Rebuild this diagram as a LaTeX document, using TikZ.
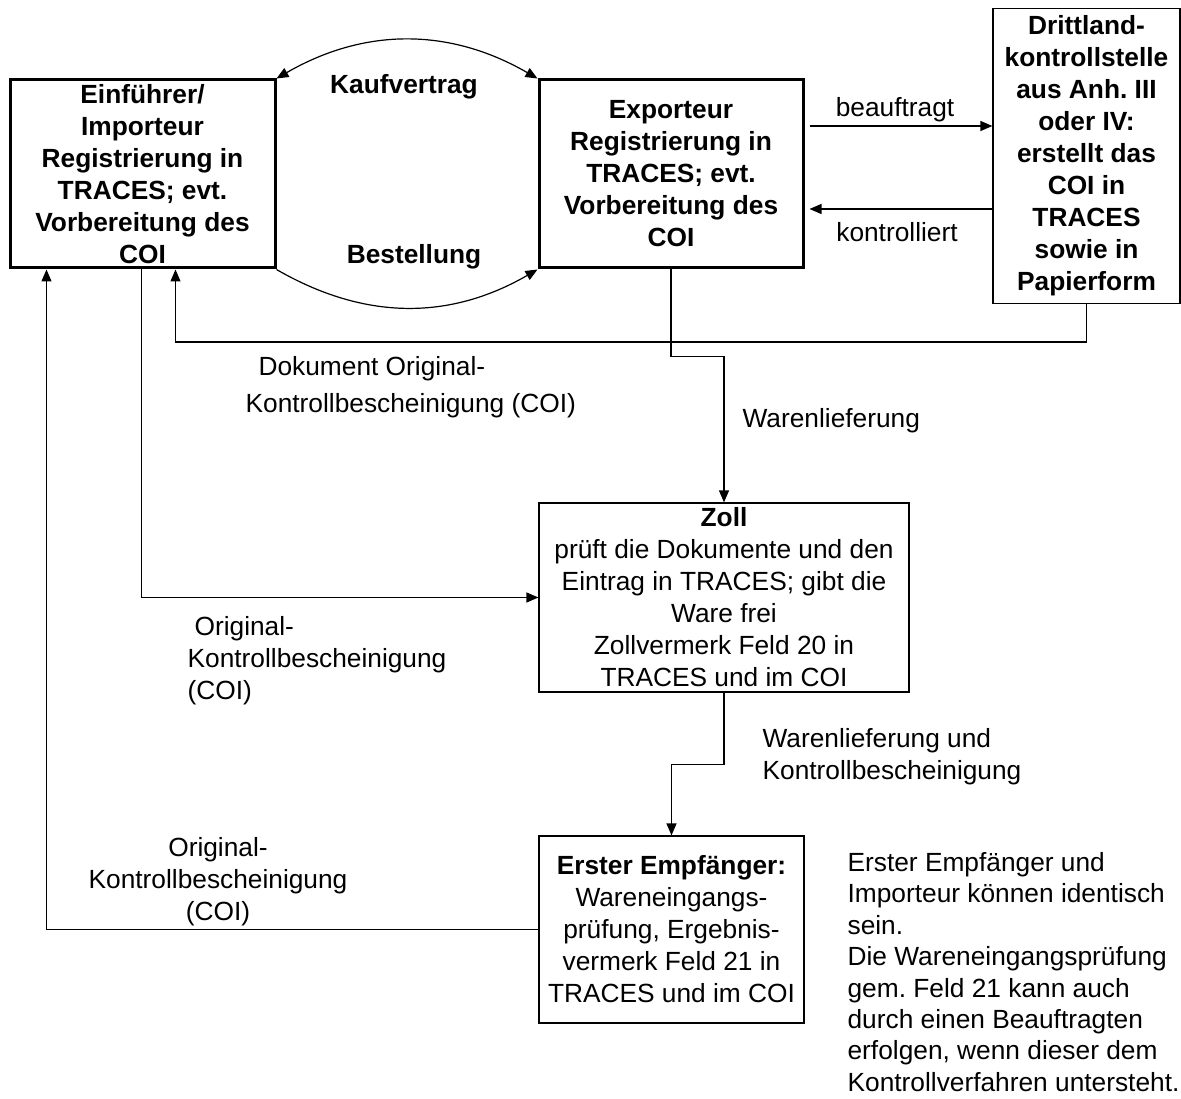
\documentclass[tikz,border=0pt]{standalone}
\usepackage{fontspec}
\setmainfont{Liberation Sans}
\usetikzlibrary{arrows.meta}
\newcommand{\fsz}{\fontsize{26.3}{32}\selectfont}
\frenchspacing

\begin{document}
\begin{tikzpicture}[x=1pt, y=-1pt, font=\fsz, line width=1.2pt,
    >={Triangle[length=12pt,width=10pt]},
    heavy/.style={draw, line width=3pt, align=center, inner sep=0pt, font=\fsz\bfseries},
    light/.style={draw, line width=1.2pt, align=center, inner sep=0pt},
    lbl/.style={align=left, anchor=west, inner sep=0pt}]
    \useasboundingbox (0,0) rectangle (1181,1099);

    % boxes
    \node[heavy, minimum width=265pt, minimum height=188pt] (imp) at (142.5,174)
        {Einführer/\\Importeur\\Registrierung in\\TRACES; evt.\\Vorbereitung des\\COI};
    \node[heavy, minimum width=264pt, minimum height=188pt] (exp) at (671,174)
        {Exporteur\\Registrierung in\\TRACES; evt.\\Vorbereitung des\\COI};
    \node[light, font=\fsz\bfseries, minimum width=187pt, minimum height=295pt] (dritt) at (1086.5,156)
        {Drittland-\\kontrollstelle\\aus Anh. III\\oder IV:\\erstellt das\\COI in\\TRACES\\sowie in\\Papierform};
    \node[light, minimum width=370pt, minimum height=189pt] (zoll) at (724,597.5)
        {\textbf{Zoll}\\prüft die Dokumente und den\\Eintrag in TRACES; gibt die\\Ware frei\\Zollvermerk Feld 20 in\\TRACES und im COI};
    \node[light, minimum width=265pt, minimum height=187pt] (erster) at (671.5,929.5)
        {\textbf{Erster Empfänger:}\\Wareneingangs-\\prüfung, Ergebnis-\\vermerk Feld 21 in\\TRACES und im COI};

    % labels
    \node[font=\fsz\bfseries] (kauf) at (404,87) {Kaufvertrag};
    \node[font=\fsz\bfseries] (best) at (414,257) {Bestellung};
    \node (beauf) at (895,110) {beauftragt};
    \node (kontr) at (897,232) {kontrolliert};
    \node[lbl] (dok) at (245,387) {\hspace*{13pt}Dokument Original-\\[5pt]Kontrollbescheinigung (COI)};
    \node[lbl] (wl) at (742,421) {Warenlieferung};
    \node[lbl] (origA) at (187,661) {\hspace*{7pt}Original-\\Kontrollbescheinigung\\(COI)};
    \node[lbl] (wlk) at (762,757) {Warenlieferung und\\Kontrollbescheinigung};
    \node[align=center, inner sep=0pt] (origB) at (218,882) {Original-\\Kontrollbescheinigung\\(COI)};
    \node[lbl, font=\fontsize{26.3}{31.4}\selectfont] (hint) at (847,972)
        {Erster Empfänger und\\Importeur können identisch\\sein.\\Die Wareneingangsprüfung\\gem. Feld 21 kann auch\\durch einen Beauftragten\\erfolgen, wenn dieser dem\\Kontrollverfahren untersteht.};

    % connectors
    \draw[<->] (imp.north east) to[bend left=30] (exp.north west);
    \draw[->] (imp.south east) to[bend right=30] (exp.south west);

    \coordinate (bA) at ([xshift=5pt,yshift=48pt]exp.east);
    \coordinate (kA) at ([xshift=5pt,yshift=-35pt]exp.east);
    \draw[->] (bA) -- (bA -| dritt.west);
    \draw[->] (kA -| dritt.west) -- (kA);

    \draw[->] (dritt.south) -- ++(0,38) -| ([xshift=167pt]imp.south west);
    \draw[->] (exp.south) -- ++(0,87) -| (zoll.north);
    \draw[->] ([xshift=133pt]imp.south west) |- (zoll.west);
    \draw[->] (zoll.south) -- ++(0,72) -| (erster.north);
    \draw[->] (erster.west) -| ([xshift=38pt]imp.south west);
\end{tikzpicture}
\end{document}
